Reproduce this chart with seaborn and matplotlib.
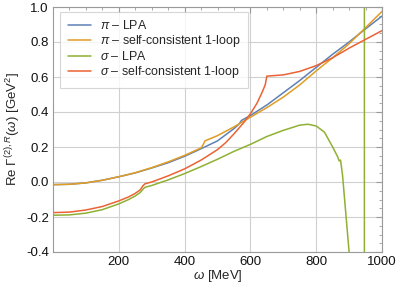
import matplotlib
matplotlib.use("Agg")
import matplotlib.pyplot as plt
from matplotlib.ticker import MultipleLocator, FormatStrFormatter
import pandas as pd
import seaborn as sns

# values (omega in MeV, Re Gamma in GeV^2)
omega_pi_lpa = [0, 50, 100, 150, 200, 250, 300, 350, 400, 450, 500, 550, 565, 573,
                600, 650, 700, 750, 800, 850, 900, 950, 1000]
pi_lpa = [-0.015, -0.013, -0.005, 0.01, 0.03, 0.052, 0.08, 0.11, 0.147, 0.19, 0.235,
          0.305, 0.33, 0.352, 0.38, 0.44, 0.51, 0.58, 0.655, 0.73, 0.80, 0.875, 0.948]

omega_pi_sc = [0, 50, 100, 150, 200, 250, 300, 350, 400, 450, 457, 462, 500, 550,
               600, 650, 700, 750, 800, 850, 900, 950, 1000]
pi_sc = [-0.015, -0.013, -0.005, 0.01, 0.03, 0.053, 0.082, 0.115, 0.152, 0.195, 0.215,
         0.235, 0.265, 0.315, 0.37, 0.425, 0.485, 0.555, 0.635, 0.71, 0.79, 0.882, 0.975]

omega_sigma_lpa = [0, 50, 100, 150, 200, 230, 250, 265, 275, 280, 300, 350, 400, 450,
                   500, 550, 600, 650, 700, 750, 775, 800, 825, 850, 865, 870, 874,
                   880, 890, 900, 920, 940, 946, 947, 960, 1000]
sigma_lpa = [-0.19, -0.188, -0.178, -0.158, -0.125, -0.1, -0.08, -0.06, -0.038, -0.03,
             -0.02, 0.012, 0.048, 0.088, 0.13, 0.175, 0.215, 0.26, 0.295, 0.325, 0.33,
             0.32, 0.285, 0.2, 0.145, 0.12, 0.125, 0.04, -0.18, -0.40, -1.2, -4.0,
             -20.0, 20.0, 5.0, 2.0]

omega_sigma_sc = [0, 50, 100, 150, 200, 230, 250, 265, 274, 280, 300, 350, 400, 450,
                  500, 525, 550, 580, 600, 620, 635, 645, 650, 700, 750, 800, 850,
                  900, 950, 1000]
sigma_sc = [-0.175, -0.172, -0.16, -0.14, -0.108, -0.085, -0.065, -0.045, -0.02, -0.01,
            0.0, 0.035, 0.075, 0.125, 0.185, 0.225, 0.275, 0.34, 0.39, 0.45, 0.51, 0.555,
            0.605, 0.612, 0.632, 0.665, 0.71, 0.765, 0.815, 0.865]

labels = [r"$\pi$ – LPA", r"$\pi$ – self-consistent 1-loop",
          r"$\sigma$ – LPA", r"$\sigma$ – self-consistent 1-loop"]
colors = ["#5E81B5", "#E19C24", "#8FB032", "#EB6235"]

frames = []
for lab, xs, ys in zip(labels,
                       [omega_pi_lpa, omega_pi_sc, omega_sigma_lpa, omega_sigma_sc],
                       [pi_lpa, pi_sc, sigma_lpa, sigma_sc]):
    frames.append(pd.DataFrame({"omega": xs, "value": ys, "series": lab}))
df = pd.concat(frames, ignore_index=True)

sns.set_style("white")
plt.rcParams["font.family"] = ["Liberation Sans", "DejaVu Sans"]
plt.rcParams["mathtext.fontset"] = "custom"
plt.rcParams["mathtext.rm"] = "Liberation Sans"
plt.rcParams["mathtext.it"] = "Liberation Sans:italic"
plt.rcParams["mathtext.bf"] = "Liberation Sans:bold"

fig = plt.figure(figsize=(3.99, 2.86), dpi=100)
ax = fig.add_axes([53 / 399, 1 - 252 / 286, 329 / 399, 245 / 286])

sns.lineplot(data=df, x="omega", y="value", hue="series", hue_order=labels,
             palette=colors, estimator=None, sort=False, linewidth=1.1, ax=ax)

ax.set_xlim(0, 1000)
ax.set_ylim(-0.4, 1.0)
ax.set_xticks([200, 400, 600, 800, 1000])
ax.set_yticks([-0.4, -0.2, 0.0, 0.2, 0.4, 0.6, 0.8, 1.0])
ax.yaxis.set_major_formatter(FormatStrFormatter("%.1f"))
ax.xaxis.set_minor_locator(MultipleLocator(50))
ax.yaxis.set_minor_locator(MultipleLocator(0.05))
ax.grid(True, which="major", color="#d0d0d0", linewidth=0.8)
ax.tick_params(which="both", direction="in", top=True, right=True, color="#9a9a9a",
               labelsize=9.5, labelcolor="#111111")
ax.tick_params(which="major", length=4, pad=3)
ax.tick_params(which="minor", length=2)
for s in ax.spines.values():
    s.set_color("#9a9a9a")
    s.set_linewidth(0.8)

ax.set_xlabel(r"$\omega$ [MeV]", fontsize=9.5, labelpad=0)
ax.set_ylabel(r"Re $\Gamma^{(2),R}(\omega)$ [GeV$^2$]", fontsize=9.5, labelpad=2)

leg = ax.legend(loc="upper left", fontsize=8.9, frameon=True, handlelength=1.9,
                handletextpad=0.7, borderpad=0.3, labelspacing=0.08,
                bbox_to_anchor=(0.015, 0.99))
leg.get_frame().set_edgecolor("#cccccc")
leg.get_frame().set_linewidth(0.8)
leg.get_frame().set_boxstyle("square")

fig.savefig("out.png", dpi=100)
